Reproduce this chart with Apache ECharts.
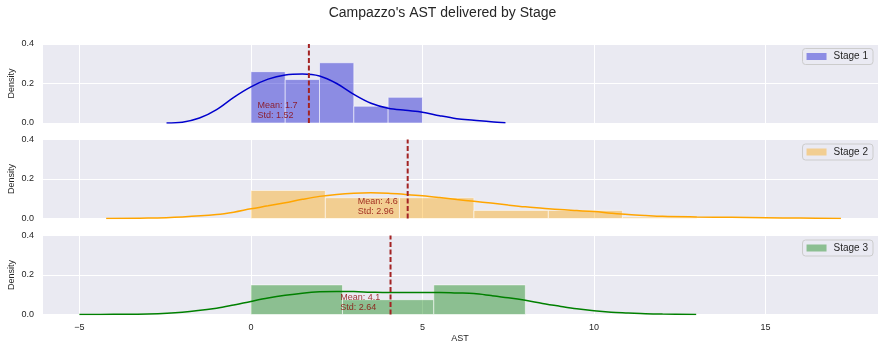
<!DOCTYPE html>
<html>
<head>
<meta charset="utf-8">
<script src="https://cdn.jsdelivr.net/npm/echarts@6/dist/echarts.min.js"></script>
<style>
  html, body { margin: 0; padding: 0; background: #fff; }
  #main { width: 885px; height: 351px; }
</style>
</head>
<body>
<div id="main"></div>
<script>
// stage names
const stages = ['Stage 1', 'Stage 2', 'Stage 3']

// histogram bin edges and densities
const binEdges1 = [0, 1, 2, 3, 4, 5]
const density1 = [0.26, 0.22, 0.305, 0.085, 0.13]
const binEdges2 = [0, 2.17, 4.33, 6.5, 8.67, 10.83, 13]
const density2 = [0.142, 0.105, 0.105, 0.041, 0.041, 0.007]
const binEdges3 = [0, 2.67, 5.33, 8]
const density3 = [0.15, 0.075, 0.15]

// kde curves (x, density)
const kde1X = [-2.46, -2, -1.5, -1, -0.5, 0, 0.5, 1, 1.5, 2, 2.5, 3, 3.5, 4, 4.5, 5, 5.5, 6, 6.5, 7, 7.42]
const kde1Y = [0, 0.004, 0.025, 0.068, 0.13, 0.183, 0.222, 0.243, 0.248, 0.238, 0.2, 0.145, 0.1, 0.075, 0.064, 0.055, 0.037, 0.022, 0.014, 0.006, 0.001]
const kde2X = [-4.22, -3, -2, -1, -0.5, 0, 0.5, 1, 1.5, 2, 2.5, 3, 3.5, 4, 4.5, 5, 5.5, 6, 6.5, 7, 7.5, 8, 8.5, 9, 9.5, 10, 10.5, 11, 11.5, 12, 13, 14, 15, 16, 17.2]
const kde2Y = [0, 0.002, 0.008, 0.02, 0.032, 0.049, 0.064, 0.08, 0.097, 0.112, 0.122, 0.128, 0.13, 0.128, 0.122, 0.115, 0.106, 0.096, 0.087, 0.078, 0.068, 0.059, 0.052, 0.045, 0.04, 0.035, 0.027, 0.02, 0.015, 0.011, 0.008, 0.006, 0.004, 0.002, 0]
const kde3X = [-5, -4, -3, -2, -1, -0.5, 0, 0.5, 1, 1.5, 2, 2.5, 3, 3.5, 4, 4.5, 5, 5.5, 6, 6.5, 7, 7.5, 8, 8.5, 9, 9.5, 10, 10.5, 11, 11.5, 12, 12.98]
const kde3Y = [0, 0.001, 0.003, 0.012, 0.032, 0.048, 0.066, 0.083, 0.097, 0.108, 0.115, 0.117, 0.116, 0.113, 0.111, 0.111, 0.112, 0.112, 0.109, 0.106, 0.096, 0.085, 0.072, 0.056, 0.042, 0.029, 0.019, 0.012, 0.008, 0.004, 0.002, 0]

// mean / std per stage
const means = [1.69, 4.57, 4.07]
const stds = [1.52, 2.96, 2.64]
// where the mean/std note sits (data coords)
const noteAt = [[0.18, 0.061], [3.10, 0.063], [2.59, 0.063]]

// tick labels
const yTicks = [0, 0.2, 0.4]
const xTicks = [-5, 0, 5, 10, 15]

const binEdges = [binEdges1, binEdges2, binEdges3]
const densities = [density1, density2, density3]
const kdeX = [kde1X, kde2X, kde3X]
const kdeY = [kde1Y, kde2Y, kde3Y]

const lineColors = ['#0000cd', '#ffa500', '#008000']
const barColors = ['rgba(0,0,205,0.4)', 'rgba(255,165,0,0.4)', 'rgba(0,128,0,0.4)']
const font = "'Liberation Sans', Arial, sans-serif"
const textColor = '#262626'

const gridTops = [44, 139.5, 235.5]

let chart = echarts.init(document.getElementById('main'), null, { renderer: 'canvas' })

let grid = [], xAxis = [], yAxis = [], legend = [], series = []

stages.forEach((name, i) => {
  grid.push({
    left: 42, width: 836, top: gridTops[i], height: 79,
    outerBoundsMode: 'none', containLabel: false,
    show: true, backgroundColor: '#eaeaf2', borderWidth: 0
  })
  xAxis.push({
    type: 'value', gridIndex: i,
    min: -6.09, max: 18.28,
    splitNumber: 5,
    axisLine: { show: false }, axisTick: { show: false },
    splitLine: { show: true, lineStyle: { color: '#fff', width: 1 } },
    axisLabel: {
      show: i === 2, color: textColor, fontSize: 9, fontFamily: font, margin: 9,
      showMinLabel: false, showMaxLabel: false,
      formatter: v => xTicks.indexOf(v) >= 0 ? String(v).replace('-', '\u2212') : ''
    },
    name: i === 2 ? 'AST' : '',
    nameLocation: 'middle', nameGap: 20, nameMoveOverlap: false,
    nameTextStyle: { color: textColor, fontSize: 9, fontFamily: font }
  })
  yAxis.push({
    type: 'value', gridIndex: i,
    min: yTicks[0], max: yTicks[yTicks.length - 1], interval: 0.2,
    axisLine: { show: false }, axisTick: { show: false },
    splitLine: { show: true, lineStyle: { color: '#fff', width: 1 } },
    axisLabel: { color: textColor, fontSize: 9, fontFamily: font, margin: 8, formatter: v => v.toFixed(1) },
    name: 'Density', nameLocation: 'middle', nameGap: 26, nameRotate: 90, nameMoveOverlap: false,
    nameTextStyle: { color: textColor, fontSize: 9, fontFamily: font }
  })
  legend.push({
    data: [name],
    right: 12, top: gridTops[i] + 4.5,
    orient: 'vertical',
    icon: 'rect', itemWidth: 20, itemHeight: 7,
    padding: [3, 5, 3, 4],
    backgroundColor: 'rgba(234,234,242,0.8)',
    borderColor: '#cccccc', borderWidth: 1, borderRadius: 3,
    selectedMode: false,
    textStyle: { color: textColor, fontSize: 10, fontFamily: font, padding: [0, 0, 0, 2] }
  })

  // histogram
  let edges = binEdges[i]
  let histData = densities[i].map((d, k) => [edges[k], edges[k + 1], d])
  series.push({
    name: name, type: 'custom', xAxisIndex: i, yAxisIndex: i,
    itemStyle: { color: barColors[i] },
    encode: { x: [0, 1], y: 2 },
    data: histData,
    renderItem: (params, api) => {
      let p0 = api.coord([api.value(0), api.value(2)])
      let p1 = api.coord([api.value(1), 0])
      return {
        type: 'rect',
        shape: { x: p0[0], y: p0[1], width: p1[0] - p0[0], height: p1[1] - p0[1] },
        style: { fill: barColors[i], stroke: 'rgba(255,255,255,0.55)', lineWidth: 1 }
      }
    },
    z: 2
  })

  // kde
  series.push({
    name: name + ' kde', type: 'line', xAxisIndex: i, yAxisIndex: i,
    data: kdeX[i].map((x, k) => [x, kdeY[i][k]]),
    smooth: 0.35, showSymbol: false, symbol: 'none',
    lineStyle: { color: lineColors[i], width: 1.5 },
    z: 3
  })

  // mean line
  series.push({
    name: name + ' mean', type: 'line', xAxisIndex: i, yAxisIndex: i,
    data: [[means[i], 0], [means[i], 0.4]],
    symbol: 'none',
    lineStyle: { color: '#a32323', width: 2, type: [5, 2.5] },
    z: 4
  })

  // mean / std note
  series.push({
    name: name + ' note', type: 'scatter', xAxisIndex: i, yAxisIndex: i,
    data: [noteAt[i]],
    symbolSize: 1,
    itemStyle: { color: 'rgba(0,0,0,0)' },
    label: {
      show: true, position: 'right', distance: 0,
      formatter: 'Mean: ' + means[i].toFixed(1) + '\nStd: ' + stds[i].toFixed(2),
      color: '#8b0000', fontSize: 9, lineHeight: 10, fontFamily: font, align: 'left'
    },
    z: 5
  })
})

let option = {
  animation: false,
  backgroundColor: '#ffffff',
  title: {
    text: "Campazzo's AST delivered by Stage",
    left: 'center', top: 1,
    textStyle: { color: textColor, fontSize: 14, fontWeight: 'normal', fontFamily: font }
  },
  grid, xAxis, yAxis, legend, series
}
chart.setOption(option)
</script>
</body>
</html>
